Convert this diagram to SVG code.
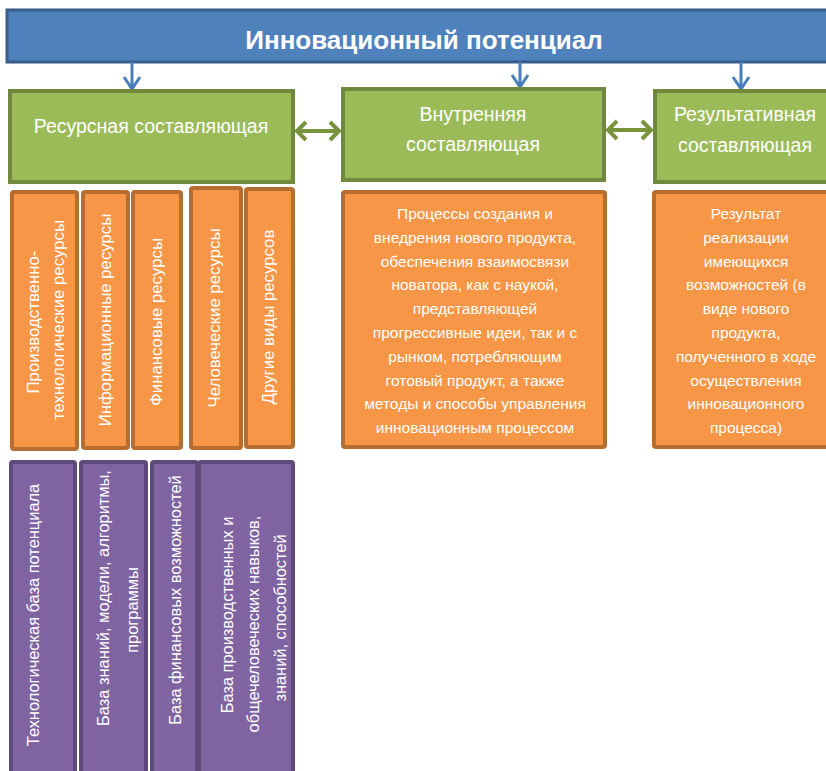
<svg xmlns="http://www.w3.org/2000/svg" width="826" height="771" viewBox="0 0 826 771">
<style>
text{font-family:"Liberation Sans",Arial,sans-serif;fill:#ffffff;text-anchor:middle}
.title{font-size:26px;font-weight:bold}
.g{font-size:19.5px}
.o{font-size:15.5px}
.r{font-size:16.8px}
.p{font-size:16.4px}
.blue{fill:#4F81BD;stroke:#385D8A;stroke-width:3}
.green{fill:#9BBB59;stroke:#71893F;stroke-width:4}
.orange{fill:#F79646;stroke:#B66D31;stroke-width:4}
.purple{fill:#8064A2;stroke:#5F497A;stroke-width:4}
.va{fill:none;stroke:#4A7EBB;stroke-width:3}
.da{fill:none;stroke:#77933C;stroke-width:4;stroke-linejoin:miter}
</style>
<rect width="826" height="771" fill="#ffffff"/>
<g id="top">
<rect class="blue" x="7" y="10" width="830" height="52"/>
<text class="title" x="424" y="49">Инновационный потенциал</text>
</g>
<g id="connectors">
<path class="va" d="M132 62V89M124 77L132 89L140 77"/>
<path class="va" d="M520 62V87M512 75L520 87L528 75"/>
<path class="va" d="M741 62V89M733 77L741 89L749 77"/>
<path class="da" d="M297 131H339M306 122L297 131L306 140M330 122L339 131L330 140"/>
<path class="da" d="M608 130H651M617 121L608 130L617 139M642 121L651 130L642 139"/>
</g>
<g id="resource">
<rect class="green" x="10" y="91" width="283" height="91"/>
<text class="g" x="151" y="133">Ресурсная составляющая</text>
</g>
<g id="internal">
<rect class="green" x="343" y="89" width="261" height="91"/>
<text class="g" x="473" y="121">Внутренняя</text>
<text class="g" x="473" y="151">составляющая</text>
</g>
<g id="result">
<rect class="green" x="655" y="91" width="185" height="91"/>
<text class="g" x="745" y="121">Результативная</text>
<text class="g" x="745" y="152">составляющая</text>
</g>
<g id="res1">
<rect class="orange" x="12" y="192" width="65" height="257" rx="2"/>
<text class="r" transform="translate(33 322) rotate(-90)" y="6">Производственно-</text>
<text class="r" transform="translate(58 320) rotate(-90)" y="6">технологические ресурсы</text>
</g>
<g id="res2">
<rect class="orange" x="83" y="192" width="45" height="256" rx="2"/>
<text class="r" transform="translate(105 320) rotate(-90)" y="6">Информационные ресурсы</text>
</g>
<g id="res3">
<rect class="orange" x="133" y="192" width="48" height="256" rx="2"/>
<text class="r" transform="translate(156 322) rotate(-90)" y="6">Финансовые ресурсы</text>
</g>
<g id="res4">
<rect class="orange" x="191" y="188" width="50" height="260" rx="2"/>
<text class="r" transform="translate(214 318) rotate(-90)" y="6">Человеческие  ресурсы</text>
</g>
<g id="res5">
<rect class="orange" x="246" y="189" width="47" height="258" rx="2"/>
<text class="r" transform="translate(268 317) rotate(-90)" y="6">Другие виды ресурсов</text>
</g>
<g id="internal-desc">
<rect class="orange" x="343" y="192" width="262" height="255" rx="2"/>
<text class="o" x="475" y="219">Процессы создания и</text>
<text class="o" x="475" y="243">внедрения нового продукта,</text>
<text class="o" x="475" y="267">обеспечения взаимосвязи</text>
<text class="o" x="475" y="290">новатора, как с наукой,</text>
<text class="o" x="475" y="314">представляющей</text>
<text class="o" x="475" y="338">прогрессивные идеи, так и с</text>
<text class="o" x="475" y="362">рынком, потребляющим</text>
<text class="o" x="475" y="386">готовый продукт, а также</text>
<text class="o" x="475" y="409">методы и способы управления</text>
<text class="o" x="475" y="433">инновационным процессом</text>
</g>
<g id="result-desc">
<rect class="orange" x="654" y="192" width="190" height="255" rx="2"/>
<text class="o" x="746" y="219">Результат</text>
<text class="o" x="746" y="243">реализации</text>
<text class="o" x="746" y="267">имеющихся</text>
<text class="o" x="746" y="290">возможностей (в</text>
<text class="o" x="746" y="314">виде нового</text>
<text class="o" x="746" y="338">продукта,</text>
<text class="o" x="746" y="362">полученного в ходе</text>
<text class="o" x="746" y="386">осуществления</text>
<text class="o" x="746" y="409">инновационного</text>
<text class="o" x="746" y="433">процесса)</text>
</g>
<g id="base1">
<rect class="purple" x="11" y="462" width="64" height="320" rx="2"/>
<text class="p" transform="translate(33 615) rotate(-90)" y="6">Технологическая база потенциала</text>
</g>
<g id="base2">
<rect class="purple" x="81" y="462" width="65" height="320" rx="2"/>
<text class="p" transform="translate(103 598) rotate(-90)" y="6">База знаний, модели, алгоритмы,</text>
<text class="p" transform="translate(132 610) rotate(-90)" y="6">программы</text>
</g>
<g id="base3">
<rect class="purple" x="152" y="462" width="45" height="320" rx="2"/>
<text class="p" transform="translate(175 600) rotate(-90)" y="6">База финансовых возможностей</text>
</g>
<g id="base4">
<rect class="purple" x="199" y="462" width="94" height="320" rx="2"/>
<text class="p" transform="translate(227 615) rotate(-90)" y="6">База производственных и</text>
<text class="p" transform="translate(253 624) rotate(-90)" y="6">общечеловеческих навыков,</text>
<text class="p" transform="translate(280 618) rotate(-90)" y="6">знаний, способностей</text>
</g>
</svg>
